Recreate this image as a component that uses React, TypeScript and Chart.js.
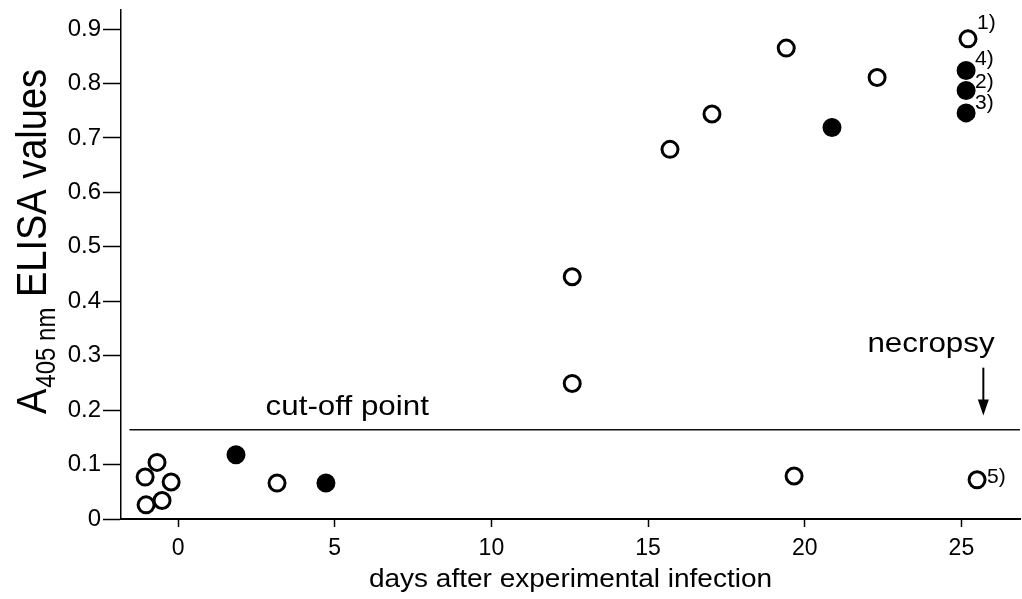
import React, { useEffect, useRef } from "react";
import { Chart, registerables } from "chart.js";

Chart.register(...registerables);

// ---------- data ----------
const openDays = [-1.05, -0.67, -0.22, -1.02, -0.51, 3.16, 12.58, 12.58, 15.7, 17.04, 19.41, 19.66, 22.31, 25.21, 25.5];
const openValues = [0.077, 0.104, 0.068, 0.026, 0.034, 0.066, 0.445, 0.249, 0.679, 0.744, 0.865, 0.079, 0.811, 0.882, 0.072];
const filledDays = [1.85, 4.72, 20.87, 25.15, 25.15, 25.15];
const filledValues = [0.118, 0.066, 0.719, 0.824, 0.787, 0.746];

const cutoffValue = 0.164;
const cutoffSpan = [-1.55, 26.87];

const xTicks = [0, 5, 10, 15, 20, 25];
const yTicks = [0, 0.1, 0.2, 0.3, 0.4, 0.5, 0.6, 0.7, 0.8, 0.9];

const noteLabels = ["1)", "4)", "2)", "3)", "5)"];
const noteDays = [25.21, 25.15, 25.15, 25.15, 25.5];
const noteValues = [0.882, 0.824, 0.787, 0.746, 0.072];

const cutoffLabel = "cut-off point";
const cutoffLabelDay = 5.4;
const necropsyLabel = "necropsy";
const necropsyLabelDay = 24.03;
const necropsyLabelValue = 0.306;
const arrowDay = 25.7;
const arrowFrom = 0.278;
const arrowTo = 0.19;

const xTitle = "days after experimental infection";
const yTitleMain = "A";
const yTitleSub = "405 nm";
const yTitleRest = " ELISA values";

// ---------- styles ----------
const FONT = '"Liberation Sans", Arial, Helvetica, sans-serif';
const noteOffsets = [
  [9, -17],
  [9, -12],
  [9, -10],
  [9, -11],
  [10, -4],
];

function drawText(
  ctx: CanvasRenderingContext2D,
  text: string,
  px: number,
  py: number,
  size: number,
  align: CanvasTextAlign,
  sx: number
) {
  ctx.save();
  ctx.translate(px, py);
  ctx.scale(sx, 1);
  ctx.font = `${size}px ${FONT}`;
  ctx.textAlign = align;
  ctx.textBaseline = "alphabetic";
  ctx.fillStyle = "#000";
  ctx.fillText(text, 0, 0);
  ctx.restore();
}

const annotationPlugin = {
  id: "annotations",
  afterDraw(chart: any) {
    const ctx: CanvasRenderingContext2D = chart.ctx;
    const xs = chart.scales.x;
    const ys = chart.scales.y;
    const area = chart.chartArea;
    ctx.save();

    // cut-off label
    drawText(ctx, cutoffLabel, xs.getPixelForValue(cutoffLabelDay), ys.getPixelForValue(cutoffValue) - 15, 28, "center", 1.12);

    // necropsy label + arrow
    drawText(ctx, necropsyLabel, xs.getPixelForValue(necropsyLabelDay), ys.getPixelForValue(necropsyLabelValue), 28, "center", 1.12);
    const ax = xs.getPixelForValue(arrowDay);
    const ay1 = ys.getPixelForValue(arrowFrom);
    const ay2 = ys.getPixelForValue(arrowTo);
    ctx.strokeStyle = "#000";
    ctx.fillStyle = "#000";
    ctx.lineWidth = 2;
    ctx.beginPath();
    ctx.moveTo(ax, ay1);
    ctx.lineTo(ax, ay2 - 12);
    ctx.stroke();
    ctx.beginPath();
    ctx.moveTo(ax - 5.5, ay2 - 16);
    ctx.lineTo(ax + 5.5, ay2 - 16);
    ctx.lineTo(ax, ay2);
    ctx.closePath();
    ctx.fill();

    // point notes
    noteLabels.forEach((t, i) => {
      const px = xs.getPixelForValue(noteDays[i]) + noteOffsets[i][0];
      const py = ys.getPixelForValue(noteValues[i]) + noteOffsets[i][1] + 7;
      drawText(ctx, t, px, py, 21, "left", 1.0);
    });

    // x title
    drawText(ctx, xTitle, (area.left + area.right) / 2, chart.height - 12, 25, "center", 1.12);

    // y title (rotated, with subscript)
    ctx.save();
    ctx.translate(46, 414);
    ctx.rotate(-Math.PI / 2);
    ctx.scale(1, 1.12);
    ctx.fillStyle = "#000";
    ctx.textAlign = "left";
    ctx.textBaseline = "alphabetic";
    ctx.font = `38px ${FONT}`;
    ctx.fillText(yTitleMain, 0, 0);
    const wA = ctx.measureText(yTitleMain).width;
    ctx.font = `24px ${FONT}`;
    ctx.fillText(yTitleSub, wA + 1, 8);
    const wS = ctx.measureText(yTitleSub).width;
    ctx.font = `38px ${FONT}`;
    ctx.fillText(yTitleRest, wA + 1 + wS, 0);
    ctx.restore();

    ctx.restore();
  },
};

export default function App() {
  const canvasRef = useRef<HTMLCanvasElement | null>(null);

  useEffect(() => {
    if (!canvasRef.current) return;
    const chart = new Chart(canvasRef.current, {
      type: "scatter",
      data: {
        datasets: [
          {
            type: "line",
            label: "cut-off",
            data: cutoffSpan.map((d) => ({ x: d, y: cutoffValue })),
            borderColor: "#111",
            borderWidth: 1.5,
            pointRadius: 0,
            fill: false,
          } as any,
          {
            label: "open",
            data: openDays.map((d, i) => ({ x: d, y: openValues[i] })),
            pointRadius: 8,
            pointBorderWidth: 3,
            pointBackgroundColor: "#fff",
            pointBorderColor: "#000",
            backgroundColor: "#fff",
            borderColor: "#000",
            clip: false,
          } as any,
          {
            label: "filled",
            data: filledDays.map((d, i) => ({ x: d, y: filledValues[i] })),
            pointRadius: 8,
            pointBorderWidth: 3,
            pointBackgroundColor: "#000",
            pointBorderColor: "#000",
            backgroundColor: "#000",
            borderColor: "#000",
            clip: false,
          } as any,
        ],
      },
      options: {
        animation: false,
        responsive: false,
        events: [],
        layout: { autoPadding: false, padding: { top: 10, right: 2, left: 0, bottom: 0 } },
        plugins: {
          legend: { display: false },
          tooltip: { enabled: false },
        },
        scales: {
          x: {
            type: "linear",
            min: -1.82,
            max: 26.87,
            afterBuildTicks: (scale: any) => {
              scale.ticks = xTicks.map((v) => ({ value: v }));
            },
            afterFit: (scale: any) => {
              scale.height = 80;
              scale.paddingLeft = 0;
              scale.paddingRight = 0;
            },
            ticks: {
              color: "#000",
              font: { family: FONT, size: 23 },
              padding: 8,
              callback: (v: any) => String(v),
            },
            grid: {
              drawOnChartArea: false,
              drawTicks: true,
              tickLength: 8,
              tickColor: "#000",
              tickWidth: 1.5,
            },
            border: { display: true, color: "#000", width: 2 },
          },
          y: {
            type: "linear",
            min: 0,
            max: 0.935,
            afterBuildTicks: (scale: any) => {
              scale.ticks = yTicks.map((v) => ({ value: v }));
            },
            afterFit: (scale: any) => {
              scale.width = 121;
              scale.paddingTop = 0;
              scale.paddingBottom = 0;
            },
            ticks: {
              color: "#000",
              font: { family: FONT, size: 24 },
              padding: 2,
              callback: (v: any) => (v === 0 ? "0" : Number(v).toFixed(1)),
            },
            grid: {
              drawOnChartArea: false,
              drawTicks: true,
              tickLength: 18,
              tickColor: "#000",
              tickWidth: 1.5,
            },
            border: { display: true, color: "#000", width: 1.5 },
          },
        },
      },
      plugins: [annotationPlugin],
    });
    return () => chart.destroy();
  }, []);

  return (
    <div style={{ position: "absolute", left: 0, top: 0, width: 1022, height: 599, background: "#fff" }}>
      <canvas ref={canvasRef} width={1022} height={599} style={{ display: "block" }} />
    </div>
  );
}
